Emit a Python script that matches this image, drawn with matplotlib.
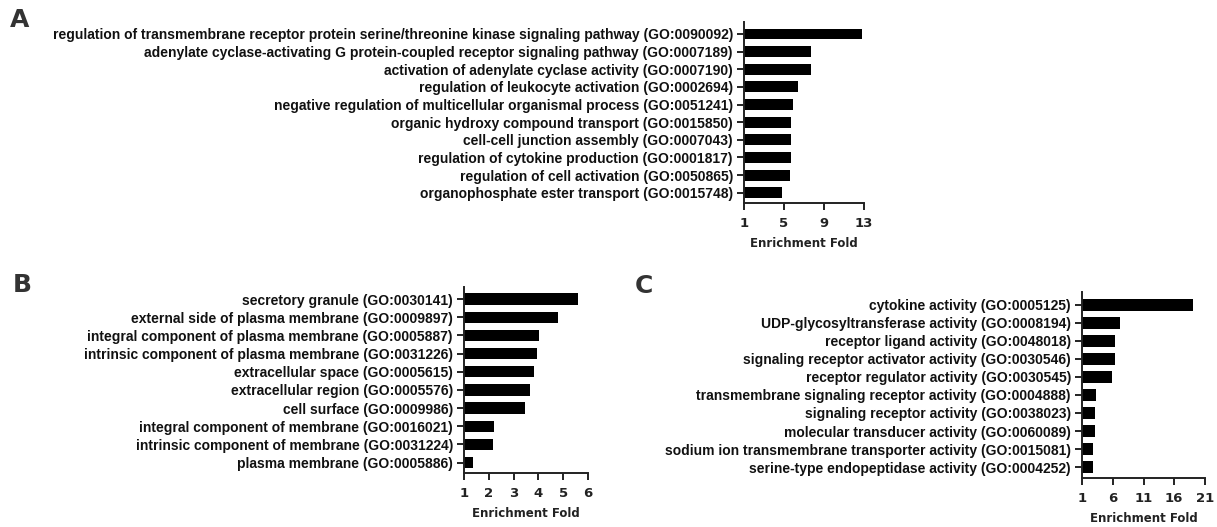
import matplotlib
matplotlib.use("Agg")
import matplotlib.pyplot as plt

# Panel A - biological process
terms_a = [
    "regulation of transmembrane receptor protein serine/threonine kinase signaling pathway (GO:0090092)",
    "adenylate cyclase-activating G protein-coupled receptor signaling pathway (GO:0007189)",
    "activation of adenylate cyclase activity (GO:0007190)",
    "regulation of leukocyte activation (GO:0002694)",
    "negative regulation of multicellular organismal process (GO:0051241)",
    "organic hydroxy compound transport (GO:0015850)",
    "cell-cell junction assembly (GO:0007043)",
    "regulation of cytokine production (GO:0001817)",
    "regulation of cell activation (GO:0050865)",
    "organophosphate ester transport (GO:0015748)",
]
fold_a = [12.8, 7.7, 7.7, 6.4, 5.9, 5.7, 5.7, 5.7, 5.6, 4.8]
ticks_a = [1, 5, 9, 13]

# Panel B - cellular component
terms_b = [
    "secretory granule (GO:0030141)",
    "external side of plasma membrane (GO:0009897)",
    "integral component of plasma membrane (GO:0005887)",
    "intrinsic component of plasma membrane (GO:0031226)",
    "extracellular space (GO:0005615)",
    "extracellular region (GO:0005576)",
    "cell surface (GO:0009986)",
    "integral component of membrane (GO:0016021)",
    "intrinsic component of membrane (GO:0031224)",
    "plasma membrane (GO:0005886)",
]
fold_b = [5.58, 4.79, 4.01, 3.96, 3.84, 3.66, 3.47, 2.21, 2.15, 1.38]
ticks_b = [1, 2, 3, 4, 5, 6]

# Panel C - molecular function
terms_c = [
    "cytokine activity (GO:0005125)",
    "UDP-glycosyltransferase activity (GO:0008194)",
    "receptor ligand activity (GO:0048018)",
    "signaling receptor activator activity (GO:0030546)",
    "receptor regulator activity (GO:0030545)",
    "transmembrane signaling receptor activity (GO:0004888)",
    "signaling receptor activity (GO:0038023)",
    "molecular transducer activity (GO:0060089)",
    "sodium ion transmembrane transporter activity (GO:0015081)",
    "serine-type endopeptidase activity (GO:0004252)",
]
fold_c = [19.1, 7.15, 6.33, 6.33, 5.85, 3.35, 3.12, 3.12, 2.85, 2.85]
ticks_c = [1, 6, 11, 16, 21]

W, H = 1217, 527
fig = plt.figure(figsize=(W / 100, H / 100), dpi=100)


def panel(box, terms, fold, ticks, ylim):
    left, top, right, bottom = box
    ax = fig.add_axes([left / W, 1 - bottom / H, (right - left) / W, (bottom - top) / H])
    pos = list(range(len(terms)))
    base = ticks[0]
    ax.barh(pos, [v - base for v in fold], left=base, height=0.62, color="black")
    ax.set_xlim(ticks[0], ticks[-1])
    ax.set_ylim(*ylim)
    ax.set_xticks(ticks)
    ax.set_xticklabels([str(t) for t in ticks], fontfamily="DejaVu Sans",
                       fontweight="bold", fontsize=9.5, color="#222222")
    ax.set_yticks(pos)
    ax.set_yticklabels(terms, fontfamily="Liberation Sans", fontweight="bold",
                       fontsize=10, color="#111111")
    ax.spines["top"].set_visible(False)
    ax.spines["right"].set_visible(False)
    for s in ("left", "bottom"):
        ax.spines[s].set_linewidth(1.4)
        ax.spines[s].set_color("#222222")
    ax.tick_params(axis="both", direction="out", length=5, width=1.4, color="#222222")
    ax.tick_params(axis="y", pad=3)
    ax.tick_params(axis="x", pad=5)
    ax.set_xlabel("Enrichment Fold", fontfamily="DejaVu Sans", fontweight="bold",
                  fontsize=8.5, color="#222222", labelpad=5)
    return ax


panel((744, 22, 864, 203), terms_a, fold_a, ticks_a, (9.58, -0.68))
panel((464, 287, 588, 473), terms_b, fold_b, ticks_b, (9.57, -0.66))
panel((1082, 292, 1205, 478), terms_c, fold_c, ticks_c, (9.61, -0.72))

for letter, x, y in [("A", 10, 27), ("B", 13, 292), ("C", 635, 293)]:
    fig.text(x / W, 1 - y / H, letter, fontfamily="DejaVu Sans", fontweight="bold",
             fontsize=18, color="#333333", ha="left", va="baseline")

fig.savefig("out.png", dpi=100)
